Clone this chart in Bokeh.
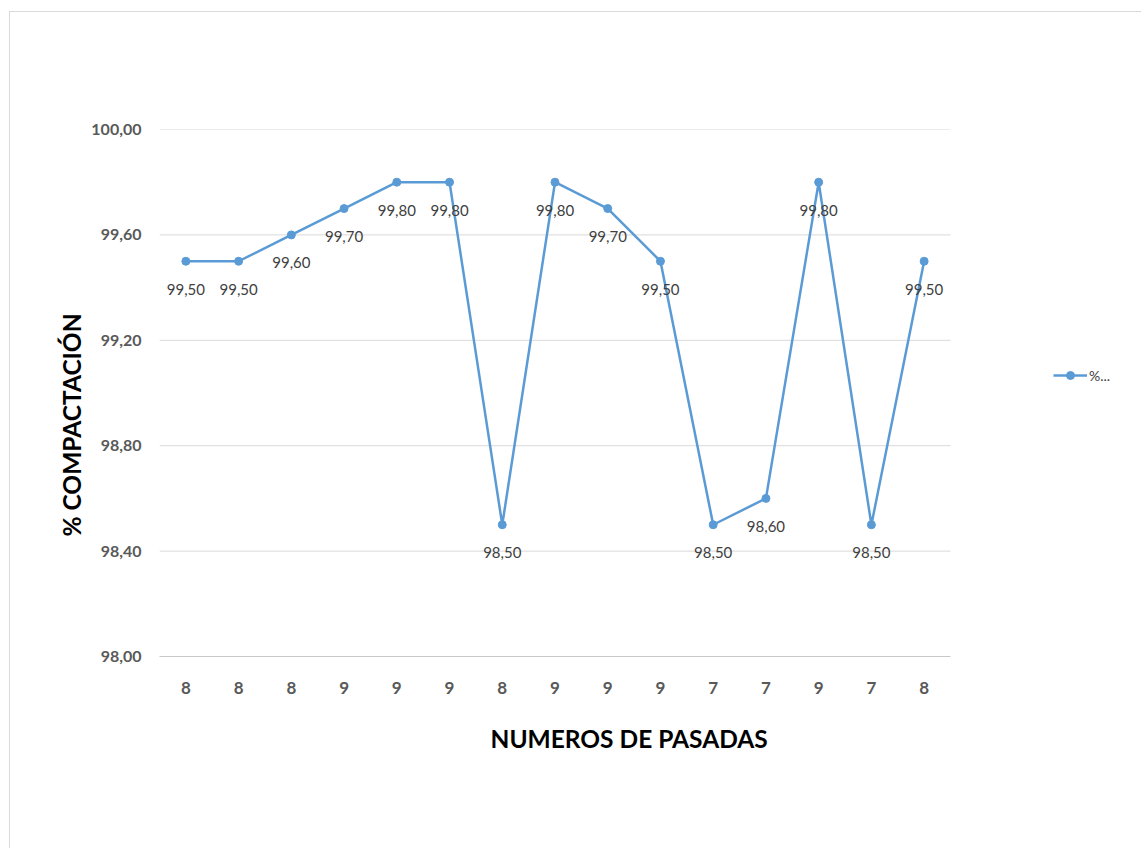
from bokeh.plotting import figure
from bokeh.models import FixedTicker, Range1d, ColumnDataSource, Legend, LegendItem, Title
from bokeh.core.properties import value
from bokeh.embed import file_html
from bokeh.resources import INLINE

# Compaction per pass: number of roller passes and % compaction
pasadas = ["8", "8", "8", "9", "9", "9", "8", "9", "9", "9", "7", "7", "9", "7", "8"]
compactacion = [99.5, 99.5, 99.6, 99.7, 99.8, 99.8, 98.5, 99.8, 99.7, 99.5, 98.5, 98.6, 99.8, 98.5, 99.5]
y_ticks = [98.0, 98.4, 98.8, 99.2, 99.6, 100.0]

FONT = "Lato"
BLUE = "#5B9BD5"
n = len(pasadas)
positions = list(range(1, n + 1))

def fmt(v):
    return f"{v:.2f}".replace(".", ",")

src = ColumnDataSource(dict(x=positions, y=compactacion, lbl=[fmt(v) for v in compactacion]))

# the frame runs to the right edge so the legend can sit beside the series;
# the category area covers the first 15 slots (0.5 .. 15.5)
p = figure(width=1132, height=837, output_backend="svg", toolbar_location=None,
           x_range=Range1d(0.5, 19.141), y_range=Range1d(98.0, 100.0),
           min_border_left=149, min_border_right=0, min_border_top=117, min_border_bottom=193)
p.outline_line_color = None
p.background_fill_color = "white"
p.border_fill_color = "white"
p.margin = (11, 0, 0, 9)
p.styles = {"border-top": "1px solid #d9d9d9", "border-left": "1px solid #d9d9d9"}

# y axis
p.yaxis.ticker = FixedTicker(ticks=y_ticks)
p.yaxis.major_label_overrides = {t: fmt(t) for t in y_ticks}
p.yaxis.axis_line_color = None
p.yaxis.major_tick_line_color = None
p.yaxis.minor_tick_line_color = None
p.yaxis.major_label_standoff = 12
p.yaxis.major_label_text_font = FONT
p.yaxis.major_label_text_font_style = "bold"
p.yaxis.major_label_text_font_size = "16px"
p.yaxis.major_label_text_color = "#595959"

# x axis with pass counts
p.xaxis.ticker = FixedTicker(ticks=positions)
p.xaxis.major_label_overrides = {i: s for i, s in zip(positions, pasadas)}
p.xaxis.bounds = (0.5, n + 0.5)
p.xaxis.axis_line_color = "#c8c8c8"
p.xaxis.major_tick_line_color = None
p.xaxis.minor_tick_line_color = None
p.xaxis.major_label_standoff = 19
p.xaxis.major_label_text_font = FONT
p.xaxis.major_label_text_font_style = "bold"
p.xaxis.major_label_text_font_size = "17px"
p.xaxis.major_label_text_color = "#595959"

# horizontal gridlines limited to the category area
p.xgrid.grid_line_color = None
p.ygrid.grid_line_color = None
grid_y = y_ticks[1:]
p.segment(x0=[0.5] * len(grid_y), x1=[n + 0.5] * len(grid_y), y0=grid_y, y1=grid_y,
          line_color="#d9d9d9", line_width=1)

ln = p.line("x", "y", source=src, line_color=BLUE, line_width=2.5)
mk = p.scatter("x", "y", source=src, size=8, fill_color=BLUE, line_color=BLUE)
p.text("x", "y", text="lbl", source=src, text_align="center", text_baseline="middle",
       y_offset=28, text_font_size="15px", text_color="#404040", text_font=value(FONT))

legend = Legend(items=[LegendItem(label="%...", renderers=[ln, mk])],
                location=(894, 271), glyph_width=34, glyph_height=20, label_standoff=2,
                padding=0, margin=0, border_line_color=None, background_fill_alpha=0,
                label_text_font=FONT, label_text_font_size="14px", label_text_color="#404040")
p.add_layout(legend, "center")

# axis titles
p.add_layout(Title(text="NUMEROS DE PASADAS", align="left", offset=331, standoff=50,
                   text_font=FONT, text_font_style="bold", text_font_size="24.5px",
                   text_color="black"), "below")
p.add_layout(Title(text="% COMPACTACIÓN", align="left", offset=120, standoff=5,
                   text_font=FONT, text_font_style="bold", text_font_size="24.5px",
                   text_color="black"), "left")

open("out.html", "w").write(file_html(p, INLINE))
